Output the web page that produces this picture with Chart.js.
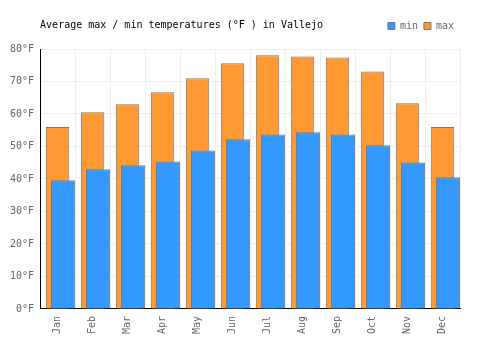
<!DOCTYPE html>
<html>
<head>
<meta charset="utf-8">
<script src="https://cdn.jsdelivr.net/npm/chart.js@4/dist/chart.umd.min.js"></script>
<style>
  body { margin: 0; background: #fff; }
</style>
</head>
<body>
<canvas id="chart" width="500" height="350"></canvas>
<script>
const months = ["Jan", "Feb", "Mar", "Apr", "May", "Jun", "Jul", "Aug", "Sep", "Oct", "Nov", "Dec"];
const minTemps = [39.6, 43, 44.2, 45.4, 48.8, 52.2, 53.7, 54.4, 53.7, 50.4, 45.1, 40.5];
const maxTemps = [56, 60.5, 63, 66.7, 71, 75.6, 78.1, 77.7, 77.4, 73.1, 63.3, 56];
const titleText = "Average max / min temperatures (°F ) in Vallejo";

Chart.defaults.font.family = "'DejaVu Sans Mono', monospace";
Chart.defaults.font.size = 10;

// draws the title on the same line as the legend,
// and leaves a little more room under the legend
const titlePlugin = {
    id: "sideTitle",
    afterInit(chart) {
        const legend = chart.legend;
        const fit = legend.fit;
        legend.fit = function () {
            fit.call(this);
            this.height += 8;
        };
    },
    afterDraw(chart) {
        const ctx = chart.ctx;
        ctx.save();
        ctx.font = "10px 'DejaVu Sans Mono', monospace";
        ctx.fillStyle = "#000";
        ctx.textBaseline = "middle";
        ctx.textAlign = "left";
        ctx.fillText(titleText, chart.chartArea.left, 25);
        ctx.restore();
    }
};

const ctx = document.getElementById("chart").getContext("2d");
new Chart(ctx, {
    type: "bar",
    data: {
        labels: months,
        datasets: [
            {
                // empty spacer so the min bars sit in the right half
                label: "",
                data: [],
                order: 0,
                categoryPercentage: 0.629,
                barPercentage: 2.2
            },
            {
                label: "min",
                data: minTemps,
                backgroundColor: "#3399ff",
                borderColor: "#777",
                borderWidth: 1,
                order: 1,
                categoryPercentage: 0.629,
                barPercentage: 2.2
            },
            {
                label: "max",
                data: maxTemps,
                backgroundColor: "#ff9933",
                borderColor: "#777",
                borderWidth: 1,
                order: 2,
                grouped: false,
                categoryPercentage: 1,
                barPercentage: 0.67
            }
        ]
    },
    options: {
        responsive: false,
        animation: false,
        layout: {
            padding: { left: 4, right: 40, top: 15, bottom: 9 }
        },
        scales: {
            x: {
                grid: { color: "#eeeeee", drawTicks: false },
                border: { color: "#000" },
                ticks: {
                    color: "#666",
                    padding: 7,
                    maxRotation: 90,
                    minRotation: 90
                }
            },
            y: {
                min: 0,
                max: 80,
                grid: { color: "#eeeeee", drawTicks: false },
                border: { color: "#000" },
                ticks: {
                    stepSize: 10,
                    color: "#666",
                    padding: 6,
                    callback: v => v + "°F"
                }
            }
        },
        plugins: {
            tooltip: { enabled: false },
            title: { display: false },
            legend: {
                position: "top",
                align: "end",
                fullSize: false,
                labels: {
                    boxWidth: 7,
                    boxHeight: 7,
                    padding: 6,
                    color: "#666",
                    font: { size: 10 },
                    filter: item => item.text !== ""
                }
            }
        }
    },
    plugins: [titlePlugin]
});
</script>
</body>
</html>
